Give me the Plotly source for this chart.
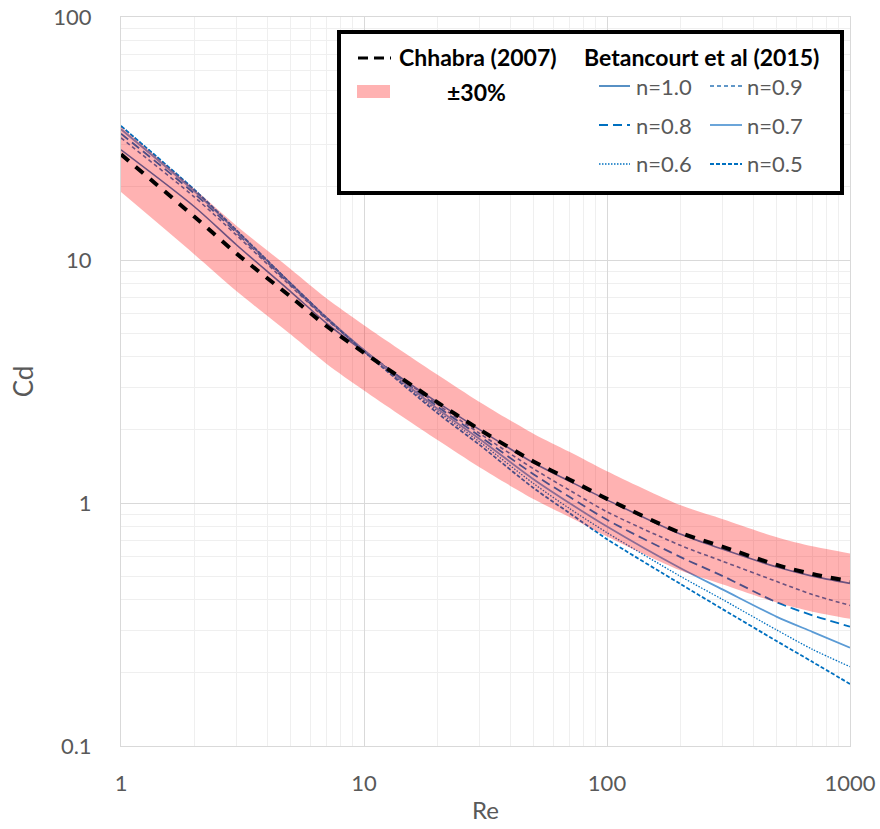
import plotly.graph_objects as go

# Reynolds numbers at which the curves are tabulated
re = [1, 2, 3, 5, 7, 10, 20, 30, 50, 70, 100, 200, 300, 500, 700, 1000]

# Chhabra (2007) drag coefficient for a sphere
cd_chhabra = [27.2, 15.1, 10.6, 7.05, 5.35, 4.15, 2.6, 2.0, 1.48, 1.25, 1.04, 0.755, 0.66, 0.556, 0.51, 0.477]
band_fraction = 0.30  # +/-30% envelope around Chhabra

# Betancourt et al (2015), power-law index n
cd_n10 = [28.4, 16.6, 11.5, 7.4, 5.5, 4.2, 2.6, 2.0, 1.46, 1.23, 1.03, 0.745, 0.645, 0.545, 0.50, 0.467]
cd_n09 = [31.8, 18.2, 12.6, 7.8, 5.7, 4.25, 2.55, 1.93, 1.38, 1.13, 0.92, 0.67, 0.575, 0.475, 0.42, 0.379]
cd_n08 = [33.1, 18.8, 12.9, 7.9, 5.75, 4.25, 2.5, 1.88, 1.31, 1.06, 0.853, 0.60, 0.50, 0.39, 0.345, 0.31]
cd_n07 = [34.5, 19.2, 13.1, 8.0, 5.8, 4.25, 2.45, 1.83, 1.25, 1.0, 0.80, 0.54, 0.44, 0.34, 0.295, 0.254]
cd_n06 = [35.6, 19.5, 13.2, 8.0, 5.8, 4.2, 2.4, 1.78, 1.2, 0.95, 0.755, 0.50, 0.40, 0.30, 0.25, 0.212]
cd_n05 = [35.6, 19.5, 13.2, 8.0, 5.8, 4.2, 2.35, 1.73, 1.15, 0.91, 0.71, 0.465, 0.365, 0.27, 0.222, 0.18]

x_ticks = [1, 10, 100, 1000]
x_tick_text = ["1", "10", "100", "1000"]
y_ticks = [0.1, 1, 10, 100]
y_tick_text = ["0.1", "1", "10", "100"]

FONT = "Lato"
GREY = "#595959"
BAND_COLOR = "rgba(255,0,0,0.30)"
SPLINE = dict(shape="spline", smoothing=0.8)

series = [
    ("n=1.0", cd_n10, dict(color="#2E75B6", width=1.6, dash="solid")),
    ("n=0.9", cd_n09, dict(color="#2E75B6", width=1.6, dash="4px,3px")),
    ("n=0.8", cd_n08, dict(color="#0070C0", width=1.8, dash="9px,5px")),
    ("n=0.7", cd_n07, dict(color="#5B9BD5", width=1.8, dash="solid")),
    ("n=0.6", cd_n06, dict(color="#0070C0", width=1.3, dash="1.5px,1.5px")),
    ("n=0.5", cd_n05, dict(color="#0070C0", width=1.8, dash="4px,2px")),
]

fig = go.Figure()

for name, vals, line in series:
    fig.add_trace(go.Scatter(x=re, y=vals, mode="lines", name=name,
                             line=dict(**SPLINE, **line), showlegend=False))

# +/-30% band drawn over the Betancourt curves
upper = [v * (1 + band_fraction) for v in cd_chhabra]
lower = [v * (1 - band_fraction) for v in cd_chhabra]
fig.add_trace(go.Scatter(x=re, y=lower, mode="lines", line=dict(width=0, **SPLINE),
                         showlegend=False, hoverinfo="skip"))
fig.add_trace(go.Scatter(x=re, y=upper, mode="lines", line=dict(width=0, **SPLINE),
                         fill="tonexty", fillcolor=BAND_COLOR, name="±30%",
                         showlegend=False, hoverinfo="skip"))

fig.add_trace(go.Scatter(x=re, y=cd_chhabra, mode="lines", name="Chhabra (2007)",
                         line=dict(color="black", width=4, dash="10px,9px", **SPLINE),
                         showlegend=False))

# ---- boxed legend in paper coordinates ----
shapes = []
annotations = []

def px(x):
    return (x - 121) / 729.0

def py(y):
    return (746 - y) / 729.0

shapes.append(dict(type="rect", xref="paper", yref="paper",
                   x0=px(339), x1=px(842), y0=py(193), y1=py(32),
                   line=dict(color="black", width=4), fillcolor="white", layer="above"))

shapes.append(dict(type="line", xref="paper", yref="paper",
                   x0=px(358), x1=px(391), y0=py(58), y1=py(58),
                   line=dict(color="black", width=3, dash="10px,6px"), layer="above"))
annotations.append(dict(x=px(397), y=py(57), xref="paper", yref="paper",
                        text="<b>Chhabra (2007)</b>", showarrow=False,
                        xanchor="left", yanchor="middle",
                        font=dict(family=FONT, size=23, color="black")))
annotations.append(dict(x=px(582), y=py(57), xref="paper", yref="paper",
                        text="<b>Betancourt et al (2015)</b>", showarrow=False,
                        xanchor="left", yanchor="middle",
                        font=dict(family=FONT, size=23, color="black")))

shapes.append(dict(type="rect", xref="paper", yref="paper",
                   x0=px(357), x1=px(390), y0=py(98), y1=py(85),
                   line=dict(width=0), fillcolor=BAND_COLOR, layer="above"))
annotations.append(dict(x=px(445), y=py(92), xref="paper", yref="paper",
                        text="<b>±30%</b>", showarrow=False,
                        xanchor="left", yanchor="middle",
                        font=dict(family=FONT, size=23, color="black")))

rows_y = [86, 125, 164]
cols = [(599, 630, 634), (710, 742, 745)]
for i, (name, vals, line) in enumerate(series):
    r, c = divmod(i, 2)
    x0, x1, xt = cols[c]
    yy = rows_y[r]
    shapes.append(dict(type="line", xref="paper", yref="paper",
                       x0=px(x0), x1=px(x1), y0=py(yy), y1=py(yy),
                       line=dict(color=line["color"], width=line["width"], dash=line["dash"]),
                       layer="above"))
    annotations.append(dict(x=px(xt), y=py(yy), xref="paper", yref="paper",
                            text=name, showarrow=False, xanchor="left", yanchor="middle",
                            font=dict(family=FONT, size=22, color=GREY)))

fig.update_layout(
    width=880, height=829,
    margin=dict(l=121, r=30, t=17, b=83),
    paper_bgcolor="white", plot_bgcolor="white",
    font=dict(family=FONT, color=GREY),
    shapes=shapes, annotations=annotations,
    showlegend=False,
)

fig.update_xaxes(type="log", range=[0, 3], automargin=False,
                 tickvals=x_ticks, ticktext=x_tick_text,
                 tickfont=dict(family=FONT, size=22, color=GREY),
                 ticks="outside", ticklen=0, ticklabelstandoff=18,
                 showgrid=True, gridcolor="#D9D9D9", gridwidth=1,
                 showline=True, linecolor="#D9D9D9", linewidth=1, mirror=True,
                 minor=dict(tickvals=[m * d for d in (1, 10, 100) for m in range(2, 10)],
                            showgrid=True, gridcolor="#EFEFEF", gridwidth=1, ticks=""),
                 title=dict(text="Re", font=dict(family=FONT, size=24, color=GREY), standoff=6),
                 zeroline=False)

fig.update_yaxes(type="log", range=[-1, 2], automargin=False,
                 tickvals=y_ticks, ticktext=y_tick_text,
                 tickfont=dict(family=FONT, size=22, color=GREY),
                 ticks="outside", ticklen=0, ticklabelstandoff=24,
                 showgrid=True, gridcolor="#D9D9D9", gridwidth=1,
                 showline=True, linecolor="#D9D9D9", linewidth=1, mirror=True,
                 minor=dict(tickvals=[m * d for d in (0.1, 1, 10) for m in range(2, 10)],
                            showgrid=True, gridcolor="#EFEFEF", gridwidth=1, ticks=""),
                 title=dict(text="Cd", font=dict(family=FONT, size=26, color=GREY), standoff=12),
                 zeroline=False)

fig.write_html("out.html")
